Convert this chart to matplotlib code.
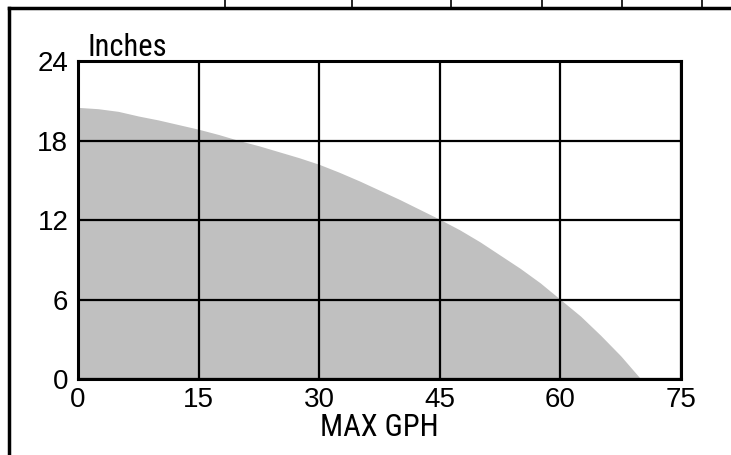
import matplotlib.pyplot as plt
from matplotlib import font_manager
from matplotlib.lines import Line2D

# pump curve
gph = [0, 2.5, 5, 7.5, 10, 12.5, 15, 17.5, 20, 22.5, 25, 27.5, 30, 32.5, 35,
       37.5, 40, 42.5, 45, 47.5, 50, 52.5, 55, 57.5, 60, 62.5, 65, 67.5, 70]
inches = [20.5, 20.4, 20.2, 19.85, 19.55, 19.2, 18.85, 18.45, 18.0, 17.6, 17.15,
          16.7, 16.2, 15.6, 14.95, 14.25, 13.55, 12.8, 12.05, 11.25, 10.35, 9.35,
          8.35, 7.25, 6.0, 4.75, 3.3, 1.75, 0]

xticks = [0, 15, 30, 45, 60, 75]
yticks = [0, 6, 12, 18, 24]

# the axis titles use a narrow face, pick an upright one if there is one
def upright(f):
    return f.style == 'normal' and f.weight in (400, 'normal', 'regular')

narrow = None
fonts = font_manager.fontManager.ttflist
for want in ['Liberation Sans Narrow', 'Roboto Condensed', 'DejaVu Sans Condensed']:
    hit = [f for f in fonts if f.name == want and upright(f)]
    if hit:
        narrow = font_manager.FontProperties(fname=hit[0].fname)
        break
if narrow is None:
    hit = [f for f in fonts if f.name == 'DejaVu Sans' and f.stretch == 'condensed' and upright(f)]
    if hit:
        narrow = font_manager.FontProperties(fname=hit[0].fname)
    else:
        narrow = font_manager.FontProperties(family=['Roboto', 'DejaVu Sans'])

W, H = 731, 455
fig = plt.figure(figsize=(W / 100, H / 100), dpi=100)
ax = fig.add_axes([78 / W, 1 - 379 / H, (681 - 78) / W, (379 - 61) / H])

ax.fill_between(gph, inches, 0, color='#c0c0c0', lw=0, zorder=1)
ax.set_xlim(0, 75)
ax.set_ylim(0, 24)
ax.set_xticks(xticks)
ax.set_yticks(yticks)
ax.grid(True, color='black', lw=1.6, zorder=2)
ax.set_axisbelow(False)
for s in ax.spines.values():
    s.set_linewidth(2.2)
ax.tick_params(length=0, labelsize=20, pad=6)
ax.tick_params(axis='y', pad=7)
for lab in ax.get_xticklabels() + ax.get_yticklabels():
    lab.set_family(['Liberation Sans', 'DejaVu Sans'])

lbl = narrow.copy()
lbl.set_size(22)
ax.set_xlabel('MAX GPH', fontproperties=lbl, labelpad=0)
fig.text(88 / W, 1 - 56 / H, 'Inches', fontproperties=lbl, va='baseline', ha='left')

# frame remnants at top and left
fig.add_artist(Line2D([9 / W, 1], [1 - 8 / H, 1 - 8 / H], color='black', lw=2.5))
fig.add_artist(Line2D([9 / W, 9 / W], [0, 1 - 8 / H], color='black', lw=2.5))
for tx in [225, 352, 451, 542, 622, 702]:
    fig.add_artist(Line2D([tx / W, tx / W], [1 - 8 / H, 1], color='black', lw=1.2))

fig.savefig('out.png', dpi=100)
